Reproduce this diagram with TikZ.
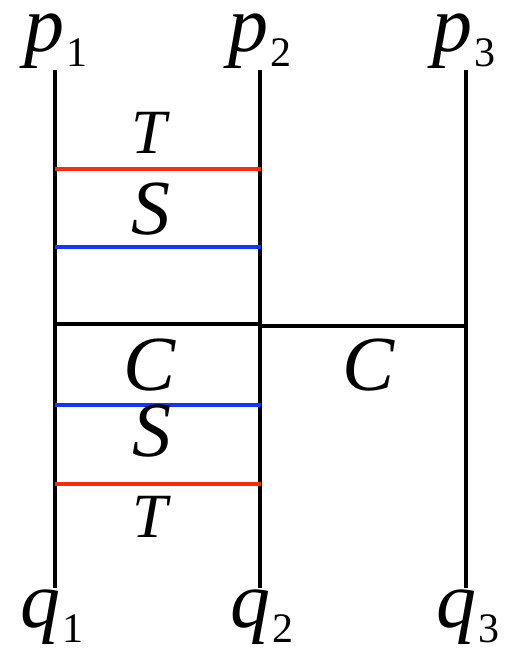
\documentclass[tikz,border=0pt]{standalone}
\usepackage{fontspec}
\setmainfont{Liberation Serif}
\definecolor{linered}{RGB}{250,45,10}
\definecolor{lineblue}{RGB}{15,55,250}
\newcommand{\lbl}[2]{{\itshape #1}\kern2pt\lower15pt\hbox{\fontsize{42}{42}\selectfont\upshape #2}}
\begin{document}
\begin{tikzpicture}[x=1pt,y=-1pt,
  endlabel/.style={anchor=base,inner sep=0pt,font=\fontsize{80}{80}\selectfont},
  biglabel/.style={anchor=base,inner sep=0pt,font=\fontsize{78}{78}\selectfont\itshape},
  smalllabel/.style={anchor=base,inner sep=0pt,font=\fontsize{63}{63}\selectfont\itshape},
  wire/.style={line width=3.6pt,black},
  redbar/.style={line width=3.6pt,linered},
  bluebar/.style={line width=3.6pt,lineblue},
  blackbar/.style={line width=3.6pt,black}]
\useasboundingbox (0,0) rectangle (519,653);
% end labels
\node[endlabel] (p1) at (56,51) {\lbl{p}{1}};
\node[endlabel] (p2) at (260,51) {\lbl{p}{2}};
\node[endlabel] (p3) at (464,51) {\lbl{p}{3}};
\node[endlabel] (q1) at (52,627) {\lbl{q}{1}};
\node[endlabel] (q2) at (262,627) {\lbl{q}{2}};
\node[endlabel] (q3) at (468,627) {\lbl{q}{3}};
% wire ends
\coordinate (t1) at (55,70);
\coordinate (t2) at (260,70);
\coordinate (t3) at (466,70);
\coordinate (b1) at (55,588);
\coordinate (b2) at (260,588);
\coordinate (b3) at (466,588);
\draw[wire] (t1) -- (b1);
\draw[wire] (t2) -- (b2);
\draw[wire] (t3) -- (b3);
% bars
\coordinate (r1a) at (55,169);  \coordinate (r1b) at (261,169);
\coordinate (s1a) at (55,247);  \coordinate (s1b) at (261,247);
\coordinate (ca) at (55,324);   \coordinate (cb) at (260,324);
\coordinate (cc) at (260,326);  \coordinate (cd) at (466,326);
\coordinate (s2a) at (55,405);  \coordinate (s2b) at (261,405);
\coordinate (r2a) at (55,484);  \coordinate (r2b) at (261,484);
\draw[redbar] (r1a) -- (r1b);
\draw[bluebar] (s1a) -- (s1b);
\draw[blackbar] (ca) -- (cb);
\draw[blackbar] (cc) -- (cd);
\draw[bluebar] (s2a) -- (s2b);
\draw[redbar] (r2a) -- (r2b);
% labels
\node[smalllabel] (T1) at (149,153) {T};
\node[biglabel] (S1) at (151,234) {S};
\node[biglabel] (C1) at (150,390) {C};
\node[biglabel] (C2) at (369,390) {C};
\node[biglabel] (S2) at (152,456) {S};
\node[smalllabel] (T2) at (150,537) {T};
\end{tikzpicture}
\end{document}
